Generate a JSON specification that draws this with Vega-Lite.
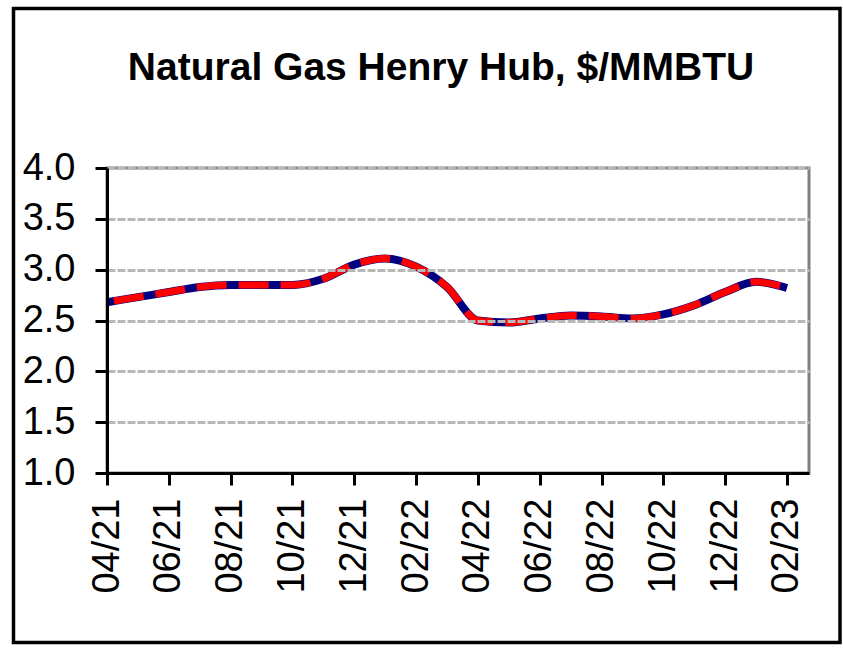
{
  "$schema": "https://vega.github.io/schema/vega-lite/v6.json",
  "width": 702,
  "height": 305,
  "autosize": {"type": "none"},
  "padding": {"left": 107, "top": 168, "right": 34, "bottom": 179},
  "background": "white",
  "title": {
    "text": "Natural Gas Henry Hub, $/MMBTU",
    "font": "Liberation Sans",
    "fontSize": 39,
    "fontWeight": "bold",
    "color": "#000000",
    "anchor": "middle",
    "dx": -17,
    "frame": "group",
    "baseline": "alphabetic",
    "offset": -112
  },
  "config": {
    "view": {"stroke": "#808080", "strokeWidth": 3},
    "axis": {
      "labelFont": "Liberation Sans",
      "labelFontSize": 38,
      "labelColor": "#000000",
      "domainColor": "#000000",
      "domainWidth": 3,
      "tickColor": "#000000",
      "tickWidth": 3,
      "tickSize": 12,
      "title": null
    }
  },
  "layer": [
    {
      "data": {"values": [{"frame": 1}]},
      "mark": {"type": "rect", "fill": null, "stroke": "#000000", "strokeWidth": 3.5, "clip": false},
      "encoding": {
        "x": {"value": -93.5},
        "x2": {"value": 733},
        "y": {"value": -159.5},
        "y2": {"value": 474.5}
      }
    },
    {
      "data": {"name": "gas"},
      "mark": {"type": "line", "color": "#000080", "strokeWidth": 8, "interpolate": "monotone"},
      "encoding": {
        "x": {
          "field": "month",
          "type": "ordinal",
          "sort": null,
          "scale": {"type": "point", "padding": 0.356, "align": 0},
          "axis": {
            "values": ["04/21", "06/21", "08/21", "10/21", "12/21", "02/22", "04/22", "06/22", "08/22", "10/22", "12/22", "02/23"],
            "labelAngle": 270,
            "labelPadding": 13,
            "grid": false,
            "zindex": 2
          }
        },
        "y": {
          "field": "price",
          "type": "quantitative",
          "scale": {"domain": [1, 4], "nice": false, "zero": false},
          "axis": {
            "values": [1, 1.5, 2, 2.5, 3, 3.5, 4],
            "format": ".1f",
            "labelPadding": 20,
            "grid": true,
            "gridColor": "#b8b8b8",
            "gridWidth": 3,
            "gridDash": [8, 2],
            "zindex": 2
          }
        }
      }
    },
    {
      "data": {"name": "gas"},
      "mark": {"type": "line", "color": "#ff0000", "strokeWidth": 7, "interpolate": "monotone", "strokeDash": [30, 12], "strokeDashOffset": 35, "strokeCap": "butt"},
      "encoding": {
        "x": {"field": "month", "type": "ordinal", "sort": null},
        "y": {"field": "price", "type": "quantitative"}
      }
    }
  ],
  "datasets": {
    "gas": [
      {"month": "04/21", "price": 2.68},
      {"month": "05/21", "price": 2.73},
      {"month": "06/21", "price": 2.78},
      {"month": "07/21", "price": 2.83},
      {"month": "08/21", "price": 2.85},
      {"month": "09/21", "price": 2.85},
      {"month": "10/21", "price": 2.85},
      {"month": "11/21", "price": 2.91},
      {"month": "12/21", "price": 3.05},
      {"month": "01/22", "price": 3.11},
      {"month": "02/22", "price": 3.03},
      {"month": "03/22", "price": 2.83},
      {"month": "04/22", "price": 2.5},
      {"month": "05/22", "price": 2.48},
      {"month": "06/22", "price": 2.52},
      {"month": "07/22", "price": 2.55},
      {"month": "08/22", "price": 2.54},
      {"month": "09/22", "price": 2.52},
      {"month": "10/22", "price": 2.56},
      {"month": "11/22", "price": 2.65},
      {"month": "12/22", "price": 2.78},
      {"month": "01/23", "price": 2.88},
      {"month": "02/23", "price": 2.82}
    ]
  }
}
